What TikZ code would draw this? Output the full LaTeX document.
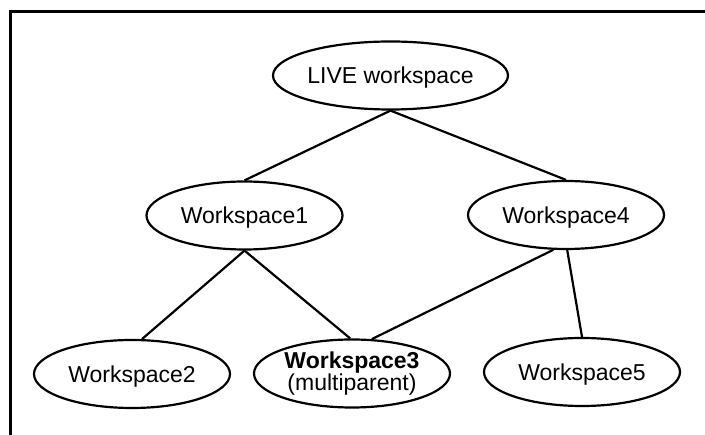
\documentclass[tikz,border=0pt]{standalone}
\usepackage{fontspec}
\setmainfont{Liberation Sans}
\usetikzlibrary{shapes.geometric}
\begin{document}
\begin{tikzpicture}[x=1pt,y=-1pt,
  ws/.style={ellipse,draw,line width=2.2pt,inner sep=0pt,minimum width=196pt,minimum height=68pt,font=\fontsize{23}{22}\selectfont,align=center},
  onel/.style={text height=16.5pt,text depth=0pt},
  conn/.style={line width=2.2pt},
  frame/.style={line width=3pt}]
\useasboundingbox (0,0) rectangle (705,435);
\coordinate (fa) at (10,435);
\coordinate (fb) at (10,11.5);
\coordinate (fc) at (705,11.5);
\draw[frame] (fa) -- (fb) -- (fc);
\node[ws,onel] (live) at (390.5,75.5) {LIVE workspace};
\node[ws,onel] (w1) at (244.5,215.5) {Workspace1};
\node[ws,onel] (w4) at (566,215) {Workspace4};
\node[ws,onel] (w2) at (132,374) {Workspace2};
\node[ws] (w3) at (352,373.5) {\textbf{Workspace3}\\(multiparent)};
\node[ws,onel] (w5) at (582,372) {Workspace5};
\draw[conn] (live.south) -- (w1.north);
\draw[conn] (live.south) -- (w4.north);
\draw[conn] (w1.south) -- (w2.74);
\draw[conn] (w1.south) -- (w3.93);
\draw[conn] (w4.250) -- (w3.60);
\draw[conn] (w4.272) -- (w5.north);
\end{tikzpicture}
\end{document}
